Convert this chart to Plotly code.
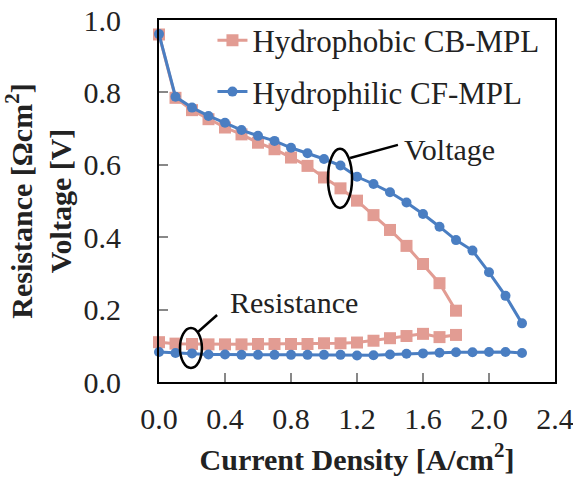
import plotly.graph_objects as go

# Data
x_cb = [0.0, 0.1, 0.2, 0.3, 0.4, 0.5, 0.6, 0.7, 0.8, 0.9, 1.0, 1.1, 1.2, 1.3, 1.4, 1.5, 1.6, 1.7, 1.8]
v_cb = [0.960, 0.785, 0.751, 0.726, 0.703, 0.684, 0.661, 0.643, 0.620, 0.597, 0.565, 0.535,
        0.501, 0.461, 0.420, 0.376, 0.326, 0.273, 0.197]
r_cb = [0.110, 0.106, 0.105, 0.104, 0.104, 0.104, 0.105, 0.105, 0.105, 0.105, 0.107, 0.107,
        0.109, 0.114, 0.121, 0.127, 0.133, 0.124, 0.130]

x_cf = [0.0, 0.1, 0.2, 0.3, 0.4, 0.5, 0.6, 0.7, 0.8, 0.9, 1.0, 1.1, 1.2, 1.3, 1.4, 1.5, 1.6,
        1.7, 1.8, 1.9, 2.0, 2.1, 2.2]
v_cf = [0.961, 0.788, 0.758, 0.735, 0.716, 0.696, 0.680, 0.666, 0.647, 0.632, 0.616, 0.598,
        0.567, 0.547, 0.524, 0.496, 0.464, 0.429, 0.392, 0.363, 0.303, 0.238, 0.162]
r_cf = [0.083, 0.080, 0.079, 0.076, 0.076, 0.075, 0.075, 0.075, 0.075, 0.075, 0.075, 0.075,
        0.073, 0.074, 0.076, 0.078, 0.079, 0.081, 0.082, 0.082, 0.083, 0.083, 0.080]

x_ticks = [0.0, 0.4, 0.8, 1.2, 1.6, 2.0, 2.4]
y_ticks = [0.0, 0.2, 0.4, 0.6, 0.8, 1.0]

PINK = "#E29C93"
BLUE = "#4A7EC2"
FONT = "Liberation Serif"

fig = go.Figure()

fig.add_trace(go.Scatter(x=x_cb, y=v_cb, mode="lines+markers", name="Hydrophobic CB-MPL",
                         line=dict(color=PINK, width=3), marker=dict(symbol="square", size=12, color=PINK),
                         cliponaxis=False, legendgroup="cb"))
fig.add_trace(go.Scatter(x=x_cb, y=r_cb, mode="lines+markers", name="Hydrophobic CB-MPL",
                         line=dict(color=PINK, width=3), marker=dict(symbol="square", size=12, color=PINK),
                         cliponaxis=False, showlegend=False, legendgroup="cb"))
fig.add_trace(go.Scatter(x=x_cf, y=v_cf, mode="lines+markers", name="Hydrophilic CF-MPL",
                         line=dict(color=BLUE, width=3), marker=dict(symbol="circle", size=10, color=BLUE),
                         cliponaxis=False, legendgroup="cf"))
fig.add_trace(go.Scatter(x=x_cf, y=r_cf, mode="lines+markers", name="Hydrophilic CF-MPL",
                         line=dict(color=BLUE, width=3), marker=dict(symbol="circle", size=10, color=BLUE),
                         cliponaxis=False, showlegend=False, legendgroup="cf"))

# Ellipses and callout lines
fig.add_shape(type="circle", xref="x", yref="y", x0=1.024, x1=1.17, y0=0.481, y1=0.644,
              line=dict(color="black", width=2.5))
fig.add_shape(type="line", xref="x", yref="y", x0=1.158, y0=0.619, x1=1.448, y1=0.655,
              line=dict(color="black", width=2.5))
fig.add_shape(type="circle", xref="x", yref="y", x0=0.127, x1=0.26, y0=0.039, y1=0.149,
              line=dict(color="black", width=2.5))
fig.add_shape(type="line", xref="x", yref="y", x0=0.236, y0=0.138, x1=0.352, y1=0.185,
              line=dict(color="black", width=2.5))

fig.add_annotation(x=1.47, y=0.641, xref="x", yref="y", text="Voltage", showarrow=False,
                   xanchor="left", yanchor="middle", font=dict(family=FONT, size=30, color="#222"))
fig.add_annotation(x=0.818, y=0.221, xref="x", yref="y", text="Resistance", showarrow=False,
                   xanchor="center", yanchor="middle", font=dict(family=FONT, size=30, color="#222"))

fig.update_layout(
    width=573, height=486,
    margin=dict(l=159, r=18, t=20, b=104, autoexpand=False),
    paper_bgcolor="white", plot_bgcolor="white",
    font=dict(family=FONT, size=30, color="#222"),
    showlegend=True,
    legend=dict(x=0.135, y=1.0175, xanchor="left", yanchor="top", bgcolor="rgba(0,0,0,0)",
                font=dict(family=FONT, size=31, color="#222"), tracegroupgap=8),
    xaxis=dict(range=[0, 2.4], tickvals=x_ticks, ticktext=[f"{v:.1f}" for v in x_ticks],
               ticks="inside", ticklen=9, tickcolor="#888", tickwidth=1.5,
               showline=True, linecolor="black", linewidth=2, mirror=True, automargin=False,
               showgrid=False, zeroline=False, ticklabelstandoff=9, ticklabeloverflow="allow",
               title=dict(text="<b>Current Density [A/cm<sup>2</sup>]</b>", standoff=15,
                          font=dict(family=FONT, size=30, color="#222")),
               tickfont=dict(family=FONT, size=30, color="#222")),
    yaxis=dict(range=[0, 1.0], tickvals=y_ticks, ticktext=[f"{v:.1f}" for v in y_ticks],
               ticks="inside", ticklen=9, tickcolor="#888", tickwidth=1.5,
               showline=True, linecolor="black", linewidth=2, mirror=True, automargin=False,
               showgrid=False, zeroline=False, ticklabelstandoff=30, ticklabeloverflow="allow",
               title=dict(text="<b>Resistance [Ωcm<sup>2</sup>]<br>Voltage [V]</b>", standoff=10,
                          font=dict(family=FONT, size=30, color="#222")),
               tickfont=dict(family=FONT, size=30, color="#222")),
)

fig.write_html("out.html", config={"displayModeBar": False},
               post_script="document.body.style.margin='0';")
